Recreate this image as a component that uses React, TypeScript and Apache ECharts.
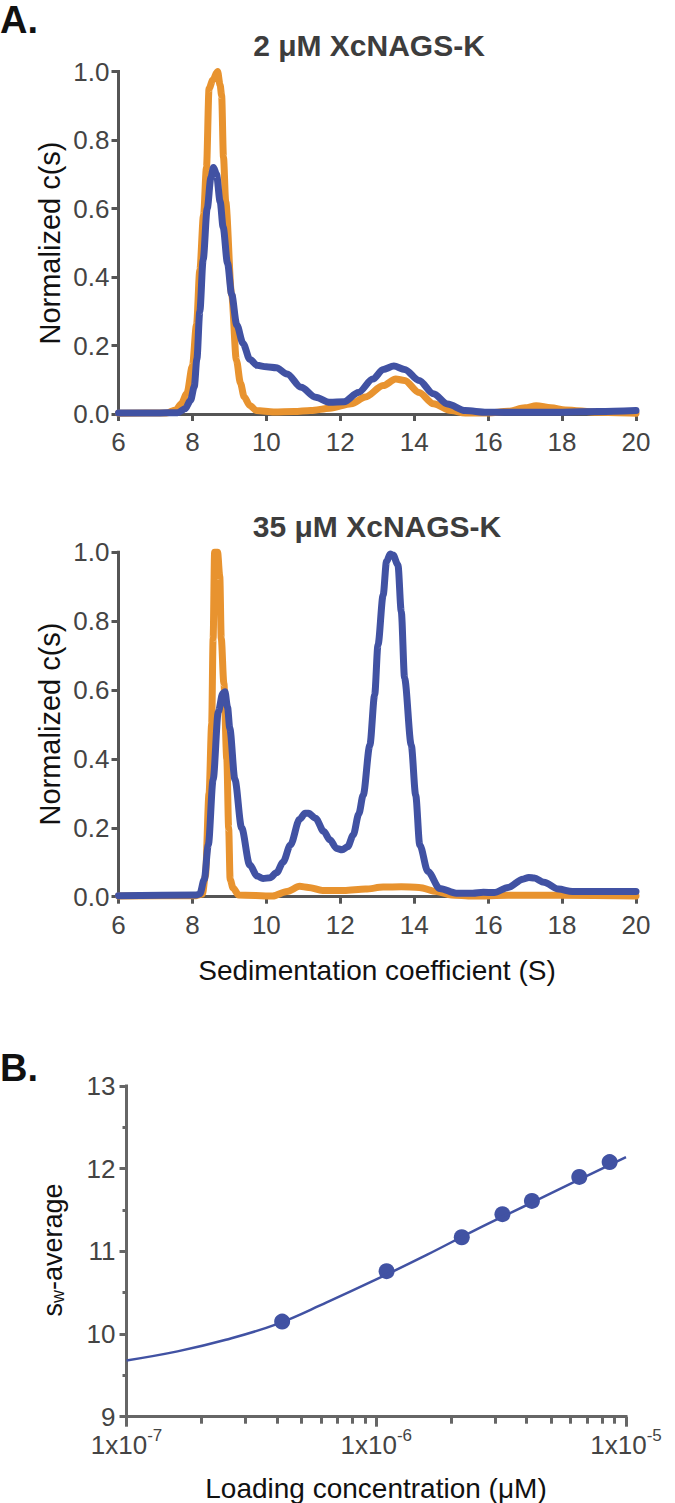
import React, { useEffect, useRef } from 'react';
import * as echarts from 'echarts';

const FONT = '"Liberation Sans", Arial, Helvetica, sans-serif';
const ORANGE = '#E8932F';
const BLUE = '#4152A3';
const AXIS = '#555555';

// Panel A, 2 µM XcNAGS-K: [sedimentation coefficient (S), normalized c(s)]
const topOrange: [number, number][] = [
  [6, 0.002], [7.3, 0.003], [7.55, 0.012], [7.7, 0.03], [7.85, 0.06], [8.0, 0.14],
  [8.11, 0.26], [8.2, 0.42], [8.3, 0.58], [8.38, 0.72], [8.45, 0.95], [8.55, 0.975],
  [8.68, 1.0], [8.75, 0.96], [8.79, 0.93], [8.84, 0.75], [8.9, 0.62], [9.06, 0.35],
  [9.19, 0.157], [9.3, 0.09], [9.4, 0.05], [9.55, 0.025], [9.73, 0.01], [10.2, 0.006],
  [10.75, 0.007], [11.2, 0.01], [11.72, 0.017], [12.3, 0.03], [12.68, 0.05], [13.16, 0.083],
  [13.5, 0.102], [13.74, 0.098], [14.13, 0.063], [14.52, 0.03], [15.0, 0.01], [15.38, 0.003],
  [16.0, 0.003], [16.54, 0.008], [17.0, 0.018], [17.3, 0.024], [17.7, 0.018], [18.09, 0.012],
  [18.96, 0.005], [20, 0.002],
];
const topBlue: [number, number][] = [
  [6, 0.003], [7.0, 0.003], [7.6, 0.004], [7.8, 0.015], [7.95, 0.04], [8.05, 0.08],
  [8.12, 0.16], [8.2, 0.3], [8.29, 0.45], [8.4, 0.6], [8.5, 0.69], [8.57, 0.72],
  [8.65, 0.7], [8.75, 0.62], [8.83, 0.546], [8.95, 0.44], [9.06, 0.35], [9.2, 0.26],
  [9.37, 0.206], [9.55, 0.16], [9.75, 0.142], [10.0, 0.138], [10.27, 0.135], [10.56, 0.117],
  [10.94, 0.078], [11.33, 0.049], [11.72, 0.034], [12.1, 0.036], [12.49, 0.063], [12.88, 0.102],
  [13.16, 0.13], [13.45, 0.14], [13.74, 0.13], [14.13, 0.098], [14.52, 0.059], [14.9, 0.029],
  [15.38, 0.01], [15.96, 0.005], [17.5, 0.005], [19, 0.007], [20, 0.01],
];

// Panel A, 35 µM XcNAGS-K
const bottomOrange: [number, number][] = [
  [6, 0.002], [8.1, 0.003], [8.27, 0.008], [8.35, 0.06], [8.45, 0.3], [8.52, 0.5],
  [8.56, 0.75], [8.6, 1.0], [8.68, 1.0], [8.74, 0.93], [8.78, 0.75], [8.85, 0.62],
  [8.93, 0.4], [8.98, 0.2], [9.02, 0.05], [9.1, 0.025], [9.25, 0.005], [10.17, 0.002],
  [10.56, 0.015], [10.9, 0.03], [11.14, 0.027], [11.52, 0.018], [12.1, 0.018], [12.68, 0.022],
  [13.16, 0.028], [13.65, 0.029], [14.13, 0.027], [14.61, 0.015], [15.0, 0.005], [15.58, 0.002],
  [16.54, 0.004], [18.0, 0.004], [20, 0.002],
];
const bottomBlue: [number, number][] = [
  [6, 0.003], [8.1, 0.005], [8.2, 0.008], [8.32, 0.05], [8.43, 0.15], [8.56, 0.34],
  [8.7, 0.537], [8.82, 0.59], [8.88, 0.595], [8.95, 0.55], [9.01, 0.49], [9.15, 0.34],
  [9.33, 0.2], [9.55, 0.092], [9.75, 0.06], [9.91, 0.053], [10.1, 0.055], [10.28, 0.07],
  [10.45, 0.1], [10.65, 0.15], [10.9, 0.225], [11.05, 0.242], [11.14, 0.242], [11.33, 0.228],
  [11.55, 0.19], [11.72, 0.165], [11.9, 0.14], [12.05, 0.136], [12.2, 0.145], [12.35, 0.179],
  [12.5, 0.24], [12.62, 0.295], [12.8, 0.44], [12.93, 0.586], [13.02, 0.731], [13.16, 0.876],
  [13.25, 0.973], [13.35, 0.995], [13.43, 0.992], [13.56, 0.963], [13.65, 0.828], [13.74, 0.634],
  [13.92, 0.44], [14.04, 0.295], [14.15, 0.15], [14.37, 0.073], [14.69, 0.024], [15.14, 0.01],
  [15.58, 0.01], [15.87, 0.013], [16.16, 0.012], [16.54, 0.027], [16.94, 0.051], [17.1, 0.056],
  [17.25, 0.054], [17.51, 0.042], [17.9, 0.022], [18.28, 0.015], [20, 0.015],
];

// Panel B: fitted curve and measured points
const fitConc = [1e-7, 1.6e-7, 2.5e-7, 4e-7, 6.3e-7, 1e-6, 1.6e-6, 2.5e-6, 4e-6, 6.3e-6, 1e-5];
const fitSw = [9.68, 9.79, 9.93, 10.12, 10.38, 10.66, 10.96, 11.26, 11.56, 11.85, 12.14];
const pointConc = [4.2e-7, 1.1e-6, 2.2e-6, 3.2e-6, 4.2e-6, 6.5e-6, 8.6e-6];
const pointSw = [10.15, 10.76, 11.17, 11.45, 11.61, 11.9, 12.08];

// Minor log ticks (2..9 within each decade)
const minorMultipliers = [2, 3, 4, 5, 6, 7, 8, 9];
const minorDecades = [-7, -6];

const axisLineStyle = { color: AXIS, width: 3, cap: 'square' as const };
const tickLineStyle = { color: AXIS, width: 3 };
const labelStyle = { fontFamily: FONT, fontSize: 26, color: '#444' };

function sedXAxis(gridIndex: number) {
  return {
    type: 'value', gridIndex, min: 6, max: 20, interval: 2, position: 'bottom',
    axisLine: { show: true, onZero: false, lineStyle: axisLineStyle },
    axisTick: { show: true, length: 7, lineStyle: tickLineStyle },
    axisLabel: { ...labelStyle, margin: 15 },
    splitLine: { show: false },
  };
}
function normYAxis(gridIndex: number) {
  return {
    type: 'value', gridIndex, min: 0, max: 1, interval: 0.2, position: 'left',
    axisLine: { show: true, onZero: false, lineStyle: axisLineStyle },
    axisTick: { show: true, length: 7, lineStyle: tickLineStyle },
    axisLabel: { ...labelStyle, margin: 9, formatter: (v: number) => v.toFixed(1) },
    splitLine: { show: false },
  };
}
function trace(data: [number, number][], color: string, idx: number) {
  return {
    type: 'line', xAxisIndex: idx, yAxisIndex: idx, data,
    showSymbol: false, symbol: 'none', clip: false,
    smooth: 0.3, smoothMonotone: 'x',
    lineStyle: { color, width: 7, join: 'round', cap: 'round' },
    silent: true,
  };
}
function txt(text: string, x: number, y: number, size: number, opts: any = {}) {
  return {
    type: 'text', x, y, rotation: opts.rotation || 0,
    style: {
      text, fontSize: size, fontFamily: FONT, fontWeight: opts.bold ? 'bold' : 'normal',
      fill: opts.color || '#111', align: opts.align || 'center', textAlign: opts.align || 'center',
      verticalAlign: 'middle', textVerticalAlign: 'middle', rich: opts.rich,
    },
  };
}

export default function App() {
  const ref = useRef<HTMLDivElement>(null);
  useEffect(() => {
    if (!ref.current) return;
    const chart = echarts.init(ref.current, undefined, { renderer: 'svg' });
    const minorTicks: number[] = [];
    minorDecades.forEach((d) => minorMultipliers.forEach((m) => minorTicks.push(d + Math.log10(m))));

    const option: any = {
      animation: false,
      grid: [
        { left: 118.5, top: 71.5, width: 517.5, height: 342.5, outerBoundsMode: 'none' },
        { left: 118.5, top: 552.3, width: 517.5, height: 344.4, outerBoundsMode: 'none' },
        { left: 126.5, top: 1086, width: 499.5, height: 330.7, outerBoundsMode: 'none' },
      ],
      xAxis: [
        sedXAxis(0),
        sedXAxis(1),
        {
          type: 'log', logBase: 10, gridIndex: 2, min: 1e-7, max: 1e-5, position: 'bottom',
          axisLine: { show: true, onZero: false, lineStyle: { ...axisLineStyle, color: '#666' } },
          axisTick: { show: true, length: 10, lineStyle: { ...tickLineStyle, color: '#666' } },
          axisLabel: {
            margin: 10,
            formatter: (v: number) => `{a|1x10}{s|${Math.round(Math.log10(v))}}`,
            rich: {
              a: { fontFamily: FONT, fontSize: 26, color: '#444', lineHeight: 36 },
              s: { fontFamily: FONT, fontSize: 17, color: '#444', lineHeight: 17, verticalAlign: 'top' },
            },
          },
          splitLine: { show: false },
        },
        {
          type: 'value', gridIndex: 2, min: -7, max: -5, position: 'bottom', offset: 0,
          axisLine: { show: false, onZero: false },
          axisTick: { show: true, length: 7, customValues: minorTicks, lineStyle: { ...tickLineStyle, color: '#666' } },
          axisLabel: { show: false },
          splitLine: { show: false },
        },
      ],
      yAxis: [
        normYAxis(0),
        normYAxis(1),
        {
          type: 'value', gridIndex: 2, min: 9, max: 13, interval: 1, position: 'left',
          axisLine: { show: true, onZero: false, lineStyle: { ...axisLineStyle, color: '#666' } },
          axisTick: { show: true, length: 7, lineStyle: { ...tickLineStyle, color: '#666' } },
          minorTick: { show: true, splitNumber: 2, length: 4, lineStyle: { color: '#666', width: 3 } },
          axisLabel: { ...labelStyle, margin: 11 },
          splitLine: { show: false },
        },
      ],
      series: [
        trace(topOrange, ORANGE, 0),
        trace(topBlue, BLUE, 0),
        trace(bottomOrange, ORANGE, 1),
        trace(bottomBlue, BLUE, 1),
        {
          type: 'line', xAxisIndex: 2, yAxisIndex: 2,
          data: fitConc.map((c, i) => [c, fitSw[i]]),
          showSymbol: false, symbol: 'none', smooth: 0.4, clip: false,
          lineStyle: { color: BLUE, width: 2.5 }, silent: true,
        },
        {
          type: 'scatter', xAxisIndex: 2, yAxisIndex: 2,
          data: pointConc.map((c, i) => [c, pointSw[i]]),
          symbol: 'circle', symbolSize: 16, itemStyle: { color: BLUE, opacity: 1 }, silent: true,
        },
      ],
      graphic: [
        txt('A.', 0, 20, 38, { bold: true, align: 'left', color: '#111' }),
        txt('2 μM XcNAGS-K', 369, 45, 30, { bold: true, color: '#3d3d3d' }),
        txt('Normalized c(s)', 50, 243, 29, { rotation: Math.PI / 2 }),
        txt('35 μM XcNAGS-K', 377, 526, 30, { bold: true, color: '#3d3d3d' }),
        txt('Normalized c(s)', 50, 724, 29, { rotation: Math.PI / 2 }),
        txt('Sedimentation coefficient (S)', 377, 970, 28),
        txt('B.', 0, 1068, 38, { bold: true, align: 'left', color: '#111' }),
        txt('{a|s}{b|w}{a|-average}', 53, 1250, 27, {
          rotation: Math.PI / 2,
          rich: {
            a: { fontSize: 27, fontFamily: FONT, fill: '#111', lineHeight: 27 },
            b: { fontSize: 18, fontFamily: FONT, fill: '#111', lineHeight: 18, verticalAlign: 'bottom', padding: [20, 0, 0, 0] },
          },
        }),
        txt('Loading concentration (μM)', 376, 1488, 28),
      ],
    };
    chart.setOption(option);
    return () => chart.dispose();
  }, []);
  return (
    <div
      ref={ref}
      style={{ position: 'absolute', left: 0, top: 0, width: 675, height: 1503, background: '#fff' }}
    />
  );
}
